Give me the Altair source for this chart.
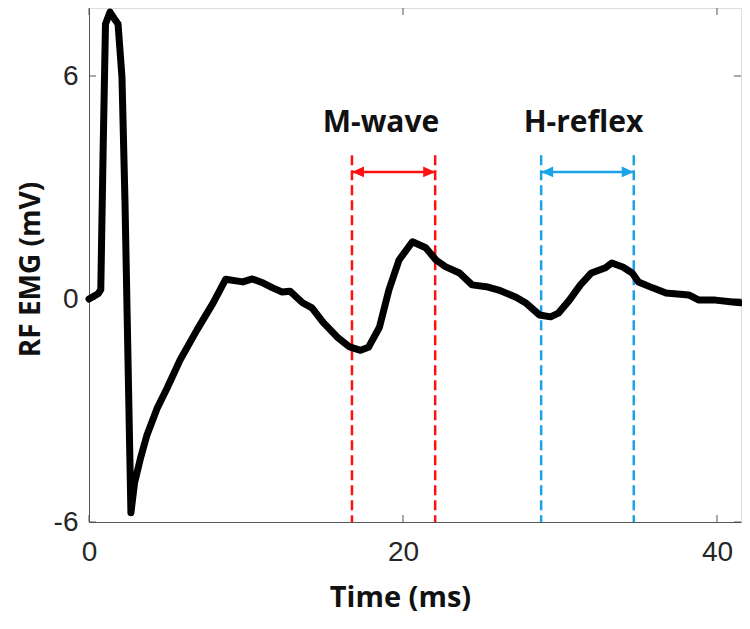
import altair as alt
import pandas as pd

# ---- data ----
time_ms = [0, 0.6, 0.75, 0.9, 1.05, 1.34, 1.6, 1.85, 2.1, 2.29, 2.67, 2.9, 3.3, 3.7, 4.33,
           4.97, 5.8, 6.88, 7.9, 8.7, 9.8, 10.4, 11.1, 11.7, 12.3, 12.8, 13.6, 14.2, 14.9,
           15.8, 16.6, 17.3, 17.8, 18.5, 19.1, 19.75, 20.6, 21.45, 22.1, 22.7, 23.6, 24.4,
           25.3, 26.1, 27.2, 27.8, 28.7, 29.4, 29.9, 30.6, 31.3, 32.0, 32.9, 33.3, 34.0,
           34.6, 35.0, 35.9, 36.75, 38.2, 38.85, 39.9, 41.0, 41.5]
emg_mv = [0, 0.15, 0.25, 4.0, 7.4, 7.72, 7.55, 7.4, 5.97, 2.66, -5.75, -4.95, -4.25, -3.65,
          -2.95, -2.4, -1.64, -0.83, -0.11, 0.53, 0.46, 0.54, 0.43, 0.30, 0.19, 0.21, -0.10,
          -0.24, -0.62, -1.02, -1.29, -1.38, -1.30, -0.76, 0.24, 1.05, 1.54, 1.38, 1.05,
          0.87, 0.70, 0.38, 0.33, 0.24, 0.05, -0.10, -0.43, -0.48, -0.38, -0.03, 0.38, 0.70,
          0.84, 0.97, 0.86, 0.70, 0.46, 0.30, 0.16, 0.11, -0.03, -0.03, -0.08, -0.10]

window_names = ["M-wave", "H-reflex"]
window_start = [16.75, 28.8]
window_end = [22.05, 34.7]
window_colors = ["#FF1010", "#1AA3E8"]
label_x = [18.6, 31.5]
label_y = 4.49
arrow_y = 3.42
dash_top = 3.87

x_ticks = [0, 20, 40]
y_ticks = [-6, 0, 6]
x_domain = [0, 41.53]
y_domain = [-6, 7.83]

W, H = 652, 514

sig = pd.DataFrame({"t": time_ms, "v": emg_mv})
win = pd.DataFrame({"name": window_names, "start": window_start, "end": window_end,
                    "color": window_colors, "lx": label_x})
dashes = pd.DataFrame({
    "t": window_start + window_end,
    "color": window_colors + window_colors,
})
dashes["top"] = dash_top
dashes["bot"] = y_domain[0]
win["ay"] = arrow_y
win["ly"] = label_y

xs = alt.Scale(domain=x_domain, nice=False, zero=False)
ys = alt.Scale(domain=y_domain, nice=False, zero=False)

minus_fix = "datum.value < 0 ? '-' + abs(datum.value) : datum.label"

xax = alt.Axis(values=x_ticks, title="Time (ms)", tickSize=0, labelPadding=16,
               labelFont="Liberation Sans", labelFontSize=28, labelColor="#262626",
               titleFont="Open Sans", titleFontWeight="bold", titleFontSize=29,
               titleColor="#111", titleX=311, titleY=84, titleBaseline="alphabetic",
               titleAlign="center", domainColor="#555", grid=False, labelFlush=False)
yax = alt.Axis(values=y_ticks, title="RF EMG (mV)", tickSize=0, labelPadding=11,
               labelFont="Liberation Sans", labelFontSize=28, labelColor="#262626",
               labelExpr=minus_fix,
               titleFont="Open Sans", titleFontWeight="bold", titleFontSize=28,
               titleColor="#111", titleX=-50, titleY=261, titleBaseline="alphabetic",
               titleAlign="center", titleAngle=270, domainColor="#555", grid=False,
               labelFlush=False)

line = alt.Chart(sig).mark_line(color="black", strokeWidth=7, strokeJoin="round",
                                strokeCap="round", clip=False).encode(
    x=alt.X("t:Q", scale=xs, axis=xax),
    y=alt.Y("v:Q", scale=ys, axis=yax),
)

vlines = alt.Chart(dashes).mark_rule(strokeWidth=2.5, strokeDash=[10, 5]).encode(
    x="t:Q", y="top:Q", y2="bot:Q",
    color=alt.Color("color:N", scale=None),
)

arrows = alt.Chart(win).mark_rule(strokeWidth=2.5).encode(
    x=alt.X("start:Q"), x2="end:Q", y="ay:Q",
    color=alt.Color("color:N", scale=None),
)
head_l = alt.Chart(win).mark_point(shape="M0,0L2,-0.9L2,0.9Z", filled=True, opacity=1,
                                   size=144, strokeWidth=0).encode(
    x="start:Q", y="ay:Q", color=alt.Color("color:N", scale=None),
)
head_r = alt.Chart(win).mark_point(shape="M0,0L-2,-0.9L-2,0.9Z", filled=True, opacity=1,
                                   size=144, strokeWidth=0).encode(
    x="end:Q", y="ay:Q", color=alt.Color("color:N", scale=None),
)
labels = alt.Chart(win).mark_text(font="Open Sans", fontWeight="bold", fontSize=30,
                                  color="#111", baseline="alphabetic", align="center").encode(
    x="lx:Q", y="ly:Q", text="name:N",
)

tick_df_x = pd.DataFrame({"t": x_ticks})
tick_df_y = pd.DataFrame({"v": y_ticks})
tick_col = "#555"
xt_bot = alt.Chart(tick_df_x).mark_rule(color=tick_col, strokeWidth=1).encode(
    x="t:Q", y=alt.value(H), y2=alt.value(H - 7))
xt_top = alt.Chart(tick_df_x).mark_rule(color=tick_col, strokeWidth=1).encode(
    x="t:Q", y=alt.value(0), y2=alt.value(7))
yt_left = alt.Chart(tick_df_y).mark_rule(color=tick_col, strokeWidth=1).encode(
    y="v:Q", x=alt.value(0), x2=alt.value(7))
yt_right = alt.Chart(tick_df_y).mark_rule(color=tick_col, strokeWidth=1).encode(
    y="v:Q", x=alt.value(W - 7), x2=alt.value(W))

chart = alt.layer(
    xt_bot, xt_top, yt_left, yt_right, vlines, arrows, head_l, head_r, labels, line
).properties(
    width=W, height=H,
    autosize=alt.AutoSizeParams(type="none"),
    padding={"left": 81, "top": 0, "right": 1, "bottom": 94},
).configure_view(stroke="#555", strokeWidth=1).configure(background="white")

chart.save("out.html", embed_options={"renderer": "svg", "actions": False})
